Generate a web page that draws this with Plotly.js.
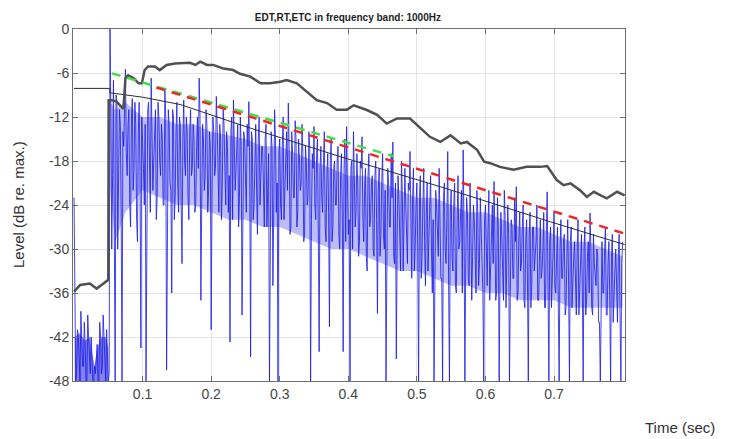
<!DOCTYPE html>
<html>
<head>
<meta charset="utf-8">
<script src="https://cdn.plot.ly/plotly-3.0.1.min.js"></script>
<style>html,body{margin:0;padding:0;background:#fff;}#chart{width:734px;height:439px;}</style>
</head>
<body>
<div id="chart"></div>
<script>
// ETC sample spacing (s); level values (dB).
// etcLevel: samples at t = i*step, etcLevelMid: samples half a step later.
const etcStep = 0.0025;
const etcLevel = [
 -23,-48,-41,-47,-38.5,-46,-40,-48,-39,-45,-42,-48,-46,-44,-48,-40,-47,-39,-45,-41,-48,
 0,-30,-7,-48,-10,-22,-13,-48,-16,-5.5,-20,-11,-27,-9.5,-19,-13,-29,-10,-43.5,-15,
 -24,-48,-11,-20,-6.7,-22,-12,-26,-10,-18,-13,-24,-8.2,-46.5,-11,-21,-36,-12,-23,-10,
 -25,-13,-32,-9.7,-20,-14,-26,-11,-19,-15,-24,-12,-6.7,-37,-13,-22,-11,-25,-14,-41,
 -12,-20,-9.2,-23,-13,-26,-11,-19,-14,-25,-42.7,-12,-9.7,-22,-15,-27,-12,-39,-14,-21,
 -13,-9.9,-44.7,-15,-24,-13,-28,-12,-20,-16,-27,-13,-22,-48,-14,-35,-11,-25,-48,-15,
 -26,-12,-21,-14,-10.1,-28,-14,-23,-12.5,-27,-15,-22,-13,-29,-16,-24,-14,-48,-17,-13.3,
 -26,-15,-44,-16,-25,-14,-29,-17,-40.6,-15,-27,-18,-24,-16,-30,-17,-44,-15,-13.3,-28,
 -48,-18,-14,-27,-17,-31,-18,-14.7,-29,-19,-33,-17,-26,-20,-31,-18,-38.8,-19,-28,-17,
 -30,-48,-19,-27,-17,-15.4,-32,-45,-20,-29,-18,-33,-19,-27,-21,-16.7,-34,-19,-30,-21,
 -48,-20,-31,-19,-35,-21,-29,-20,-36,-48,-22,-30,-19,-34,-48,-21,-32,-16.7,-48,-22,
 -33,-21,-36,-20,-29,-22,-16.5,-48,-23,-34,-21,-37,-24,-31,-22,-35,-23,-30,-48,-24,
 -35,-22,-31,-24,-20.8,-37,-23,-48,-25,-33,-22,-38,-24,-48,-26,-34,-23,-21.5,-36,-25,
 -32,-24,-38,-26,-48,-25,-35,-27,-31,-24,-37,-26,-33,-25,-38,-22.2,-48,-27,-35,-25,
 -36,-27,-48,-26,-34,-28,-38,-26,-48,-27,-33,-29,-39,-26,-35,-28,-48,-27,-37,-29,
 -25.1,-38,-28,-34,-30,-40,-48,-29,-36,-27,-39,-29,-48,-28,-35,-30,-40,-28,-48,-29
];
const etcLevelMid = [
 -44,-47,-42,-48,-41.5,-46,-43,-48,-42,-47,-45,-48,-47,-43,-48,-42,-46,-41.5,-48,-44,
 -47,-12,-20,-28,-9,-30,-11,-25,-14,-9,-17,-13,-24,-12,-22,-10,-26,-14,-20,-12,
 -19,-13,-21,-10,-25,-14,-18,-11,-23,-12,-20,-15,-24,-12,-19,-13,-22,-11,-26,-14,
 -21,-12,-24,-15,-18,-12,-23,-14,-20,-13,-25,-16,-19,-12,-24,-15,-20,-13,-22,-16,
 -23,-14,-19,-13,-25,-15,-21,-13,-24,-16,-20,-14,-26,-15,-19,-13,-23,-16,-21,-15,
 -25,-16,-20,-14,-26,-17,-22,-15,-24,-16,-21,-15,-27,-17,-22,-16,-25,-15,-21,-17,
 -24,-16,-26,-18,-22,-16,-27,-17,-23,-15,-25,-18,-21,-17,-28,-18,-23,-16,-26,-19,
 -24,-17,-28,-19,-23,-18,-27,-20,-25,-18,-29,-19,-24,-18,-28,-20,-25,-19,-29,-21,
 -26,-19,-30,-20,-25,-21,-29,-19,-26,-22,-31,-20,-27,-21,-30,-20,-26,-22,-31,-21,
 -28,-22,-32,-21,-27,-23,-31,-21,-29,-23,-33,-22,-28,-24,-32,-22,-29,-23,-33,-24,
 -30,-23,-34,-24,-29,-25,-33,-23,-30,-26,-35,-24,-31,-25,-34,-23,-30,-26,-35,-25,
 -31,-24,-35,-26,-30,-25,-36,-27,-32,-25,-35,-27,-31,-26,-36,-25,-32,-27,-36,-26,
 -33,-27,-37,-26,-32,-28,-36,-27,-33,-28,-37,-26,-32,-28,-36,-27,-34,-29,-37,-28,
 -33,-27,-37,-29,-34,-28,-38,-27,-33,-29,-37,-28,-34,-30,-38,-28,-35,-29,-38,-30,
 -35,-29,-38,-30,-34,-29,-39,-31,-35,-29,-38,-31,-36,-30,-39,-31,-35,-30,-39,-31,
 -36,-30,-39,-32,-35,-31,-40,-32,-36,-30,-39,-32,-37,-31,-40,-33,-36,-31,-39,-32
];

// dense core of the ETC after the direct sound (upper / lower edge, dB)
const coreTime  = [0.053,0.06,0.075,0.1,0.125,0.15,0.175,0.2,0.225,0.25,0.275,0.3,0.325,0.35,0.375,0.4,0.425,0.45,0.475,0.5,0.525,0.55,0.575,0.6,0.625,0.65,0.675,0.7,0.725,0.75,0.775,0.8];
const coreUpper = [-10,-11,-10,-12,-12,-13,-13,-14,-14.5,-15,-16,-16,-17,-18,-19,-20,-20,-21,-22,-23,-23,-24,-25,-25,-26,-27,-27,-28,-29,-29,-30,-31];
const coreLower = [-22,-29,-25,-22,-23,-24,-24,-25,-26,-26,-27,-27,-28,-29,-30,-30,-31,-32,-33,-33,-34,-35,-35,-36,-36,-37,-37,-37,-38,-38,-38,-38];

// dense noise before the direct sound (upper edge, dB; lower edge is the axis floor)
const preTime  = [0.001,0.008,0.016,0.023,0.027,0.030,0.034,0.040,0.046,0.050];
const preUpper = [-42,-41.5,-42.5,-42,-44.5,-46,-43.5,-42,-42,-43.5];
const preLower = [-48,-48,-48,-48,-48,-48,-48,-48,-48,-48];

// smoothed envelope (thick grey)
const envTime = [0,0.009,0.023,0.033,0.043,0.050,0.0505,0.055,0.062,0.070,0.072,0.075,0.079,0.087,0.094,0.099,0.103,0.108,0.118,0.125,0.135,0.147,0.155,0.169,0.177,0.184,0.194,0.203,0.218,0.232,0.242,0.257,0.272,0.286,0.301,0.310,0.325,0.340,0.354,0.369,0.383,0.398,0.408,0.427,0.442,0.456,0.471,0.490,0.505,0.519,0.534,0.549,0.564,0.573,0.588,0.598,0.607,0.621,0.641,0.660,0.680,0.690,0.704,0.714,0.724,0.738,0.748,0.758,0.768,0.777,0.792,0.803];
const envLevel = [-35.8,-34.9,-34.7,-35.4,-34.7,-34.2,-9.7,-9.7,-9.9,-10.8,-10.9,-6.7,-6.3,-6.7,-7.4,-7.4,-5.6,-5.1,-5.1,-5.6,-4.9,-4.7,-4.7,-4.6,-4.9,-4.45,-4.9,-4.9,-5.4,-5.6,-6.1,-6.5,-7.4,-7.4,-7.2,-6.96,-7.4,-8.55,-9.7,-10.1,-11.0,-11.0,-10.4,-11.05,-11.7,-12.9,-12.2,-12.2,-13.55,-14.7,-15.4,-14.5,-15.6,-15.4,-16.5,-18.1,-18.3,-18.8,-19.2,-18.8,-18.8,-18.7,-20.6,-21.3,-21.05,-22.0,-22.9,-22.2,-22.7,-23.1,-22.2,-22.7];

// decay curve (thin black)
const decayTime = [0,0.052,0.0525,0.10,0.155,0.25,0.388,0.534,0.695,0.803];
const decayLevel = [-8.1,-8.1,-8.7,-9.3,-10.3,-13.3,-17.4,-21.5,-26.3,-29.4];

// EDT fit (green dashed) and RT fit (red dashed)
const edtTime = [0.055,0.466];
const edtLevel = [-6.05,-17.35];
const rtTime = [0.12,0.803];
const rtLevel = [-7.97,-27.9];

const yTicks = [0,-6,-12,-18,-24,-30,-36,-42,-48];
const yTickText = ['0','-6','-12','-18','-24','-30','-36','-42','-48'];
const xTicks = [0.1,0.2,0.3,0.4,0.5,0.6,0.7];
const xTickText = ['0.1','0.2','0.3','0.4','0.5','0.6','0.7'];

// merge the two sample sets into one time series
const etcTime = [], etcY = [];
etcLevel.forEach((v, i) => {
  etcTime.push(i * etcStep); etcY.push(v);
  if (i < etcLevelMid.length) { etcTime.push(i * etcStep + etcStep / 2); etcY.push(etcLevelMid[i]); }
});
function band(t, up, lo) {
  return {x: t.concat(t.slice().reverse()), y: up.concat(lo.slice().reverse())};
}
const core = band(coreTime, coreUpper, coreLower);
const pre = band(preTime, preUpper, preLower);

const traces = [
  {x: core.x, y: core.y, type: 'scatter', mode: 'lines', fill: 'toself',
   fillcolor: 'rgba(35,35,225,0.3)', line: {width: 0}, hoverinfo: 'skip'},
  {x: pre.x, y: pre.y, type: 'scatter', mode: 'lines', fill: 'toself',
   fillcolor: 'rgba(25,25,225,0.55)', line: {width: 0}, hoverinfo: 'skip'},
  {x: etcTime, y: etcY, type: 'scatter', mode: 'lines',
   line: {color: 'rgb(25,25,232)', width: 0.9}, opacity: 0.9, hoverinfo: 'skip'},
  {x: decayTime, y: decayLevel, type: 'scatter', mode: 'lines',
   line: {color: 'rgb(45,45,45)', width: 1}},
  {x: envTime, y: envLevel, type: 'scatter', mode: 'lines',
   line: {color: 'rgb(80,80,80)', width: 2.5}},
  {x: edtTime, y: edtLevel, type: 'scatter', mode: 'lines',
   line: {color: 'rgb(70,220,70)', width: 2.5, dash: '9px,7px'}},
  {x: rtTime, y: rtLevel, type: 'scatter', mode: 'lines',
   line: {color: 'rgb(235,40,40)', width: 2.5, dash: '9px,7px'}}
];

const axisCommon = {
  showgrid: true, gridcolor: 'rgb(228,228,228)', gridwidth: 1,
  zeroline: false, showline: true, linecolor: 'rgb(110,110,110)', linewidth: 1,
  mirror: 'ticks', ticks: 'inside', ticklen: 5, tickcolor: 'rgb(110,110,110)',
  tickfont: {family: 'Liberation Sans, Arial, sans-serif', size: 14, color: 'rgb(70,70,70)'}
};

const layout = {
  width: 734, height: 439,
  margin: {l: 73, r: 109, t: 29, b: 58},
  paper_bgcolor: '#fff', plot_bgcolor: '#fff',
  showlegend: false,
  title: {text: '<b>EDT,RT,ETC in frequency band: 1000Hz</b>',
          font: {family: 'Liberation Sans, Arial, sans-serif', size: 10, color: 'rgb(30,30,30)'},
          x: 0.498, xref: 'paper', y: 1 - 17/439, yref: 'container', yanchor: 'middle'},
  xaxis: Object.assign({}, axisCommon, {range: [-0.0015, 0.8035], tickvals: xTicks, ticktext: xTickText}),
  yaxis: Object.assign({}, axisCommon, {range: [-48, 0], tickvals: yTicks, ticktext: yTickText}),
  annotations: [
    {text: 'Time (sec)', xref: 'paper', yref: 'paper', x: (680-73)/552, y: (381-427)/352,
     xanchor: 'center', yanchor: 'middle', showarrow: false,
     font: {family: 'Liberation Sans, Arial, sans-serif', size: 15, color: 'rgb(50,50,50)'}},
    {text: 'Level (dB re. max.)', xref: 'paper', yref: 'paper', x: (18-73)/552, y: 0.5,
     xanchor: 'center', yanchor: 'middle', textangle: -90, showarrow: false,
     font: {family: 'Liberation Sans, Arial, sans-serif', size: 15, color: 'rgb(50,50,50)'}}
  ]
};

Plotly.newPlot('chart', traces, layout, {displayModeBar: false, staticPlot: true});
</script>
</body>
</html>
